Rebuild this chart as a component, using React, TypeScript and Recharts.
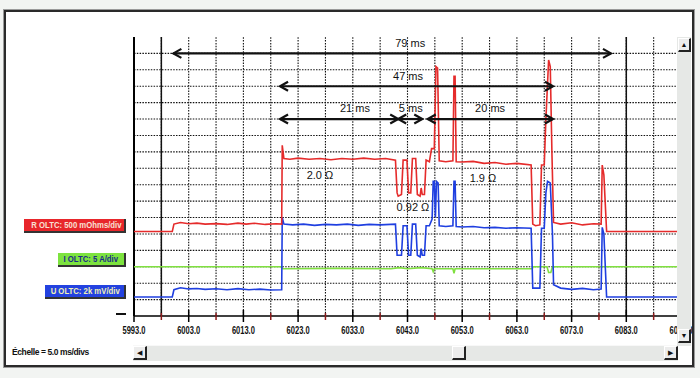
import {
  LineChart,
  Line,
  XAxis,
  YAxis,
  ReferenceLine,
  ReferenceDot,
} from "recharts";

// temps (ms) / niveau (divisions depuis l'axe)
const rTrace: [number, number][] = [
  [5993, 5.15], [6000.0, 5.15], [6000.3, 5.6], [6001.5, 5.7], [6003, 5.62], [6004.5, 5.66],
  [6006, 5.6], [6008, 5.63], [6010, 5.58], [6012, 5.66], [6013.5, 5.6], [6015, 5.65],
  [6017, 5.58], [6019, 5.62], [6020.0, 5.6], [6020.1, 10.4], [6020.4, 9.6], [6021.5, 9.55],
  [6023, 9.62], [6025, 9.55], [6027, 9.6], [6029, 9.52], [6031, 9.6], [6033, 9.55],
  [6035, 9.62], [6037, 9.55], [6039, 9.6], [6040.8, 9.5], [6041.1, 7.5], [6041.3, 7.3],
  [6041.9, 7.4], [6042.2, 9.5], [6042.9, 9.5], [6043.2, 7.5], [6043.6, 7.5], [6043.9, 9.6],
  [6044.5, 9.6], [6044.8, 7.4], [6045.3, 7.3], [6045.5, 7.8], [6045.7, 7.4], [6046.1, 7.4],
  [6046.4, 9.5], [6047.0, 9.4], [6047.4, 10.2], [6047.9, 10.2], [6048.2, 15.2], [6048.5, 15.1],
  [6048.8, 9.45], [6050, 9.4], [6051.3, 9.45], [6051.5, 14.6], [6051.7, 14.6], [6051.9, 9.4],
  [6053, 9.38], [6055, 9.42], [6057, 9.3], [6059, 9.35], [6061, 9.25], [6063, 9.3],
  [6065.6, 9.2], [6065.9, 5.6], [6066.4, 5.5], [6067.2, 5.55], [6067.5, 9.2], [6068.0, 9.2],
  [6068.3, 12], [6068.8, 15.6], [6069.1, 15.2], [6069.4, 10], [6069.7, 5.7], [6071, 5.6],
  [6073, 5.68], [6075, 5.55], [6077, 5.62], [6078.4, 5.6], [6078.6, 9.2], [6078.9, 8.6],
  [6079.4, 5.15], [6093, 5.15],
];

const iTrace: [number, number][] = [
  [5993, 3.0], [6020.0, 3.0], [6020.2, 2.88], [6030, 2.9], [6040, 2.88], [6041.5, 2.95],
  [6043, 2.88], [6045.5, 2.95], [6047.5, 2.88], [6047.7, 2.7], [6047.9, 2.88], [6051.3, 2.88],
  [6051.5, 2.6], [6051.7, 2.88], [6065.8, 2.88], [6066.0, 3.0], [6068.5, 3.0], [6068.8, 2.65],
  [6069.2, 2.65], [6069.5, 3.0], [6093, 3.0],
];

const uTrace: [number, number][] = [
  [5993, 1.16], [6000.0, 1.16], [6000.3, 1.6], [6001.5, 1.72], [6003, 1.65], [6004.5, 1.68],
  [6006, 1.62], [6008, 1.66], [6010, 1.6], [6012, 1.67], [6014, 1.6], [6016, 1.64],
  [6018, 1.58], [6020.0, 1.6], [6020.1, 6.0], [6020.4, 5.6], [6022, 5.55], [6024, 5.6],
  [6026, 5.52], [6028, 5.58], [6030, 5.55], [6032, 5.6], [6034, 5.52], [6036, 5.58],
  [6038, 5.55], [6040.8, 5.6], [6041.1, 3.7], [6041.9, 3.7], [6042.2, 5.5], [6042.9, 5.5],
  [6043.2, 3.7], [6043.6, 3.7], [6043.9, 5.6], [6044.5, 5.6], [6044.8, 3.7], [6045.3, 3.6],
  [6045.5, 4.1], [6045.7, 3.7], [6046.1, 3.7], [6046.4, 5.5], [6047.0, 5.5], [6047.5, 5.9],
  [6047.7, 8.2], [6047.9, 8.2], [6048.1, 6.0], [6048.3, 8.2], [6048.6, 8.1], [6048.8, 5.5],
  [6050, 5.45], [6051.3, 5.5], [6051.5, 8.2], [6051.7, 8.2], [6051.9, 5.45], [6053, 5.42],
  [6055, 5.45], [6057, 5.38], [6059, 5.4], [6061, 5.35], [6063, 5.38], [6065.6, 5.35],
  [6065.9, 1.7], [6067.2, 1.7], [6067.5, 5.35], [6068.0, 5.35], [6068.3, 7.5], [6068.6, 8.2],
  [6069.1, 8.1], [6069.5, 5.0], [6069.7, 1.9], [6071, 1.7], [6073, 1.62], [6075, 1.68],
  [6077, 1.6], [6078.4, 1.65], [6078.6, 5.4], [6078.9, 5.0], [6079.4, 1.16], [6093, 1.16],
];

// ticks toutes les 5 ms (majeurs toutes les 10 ms)
const timeTicks = [
  5993, 5998, 6003, 6008, 6013, 6018, 6023, 6028, 6033, 6038, 6043,
  6048, 6053, 6058, 6063, 6068, 6073, 6078, 6083, 6088, 6093,
];
const divTicks = [1, 2, 3, 4, 5, 6, 7, 8, 9, 10, 11, 12, 13, 14, 15, 16];
const cursors = [5998, 6083];

// mesures: début, fin, niveau
const arrows = [
  { from: 6000.2, to: 6080.2, at: 16 },
  { from: 6019.7, to: 6069.6, at: 14 },
  { from: 6019.7, to: 6041.3, at: 12 },
  { from: 6041.3, to: 6045.7, at: 12 },
  { from: 6046.7, to: 6069.6, at: 12 },
];

const notes = [
  { t: 6043.5, v: 16.65, text: "79 ms" },
  { t: 6043.1, v: 14.63, text: "47 ms" },
  { t: 6033.4, v: 12.68, text: "21 ms" },
  { t: 6043.6, v: 12.68, text: "5 ms" },
  { t: 6058.1, v: 12.68, text: "20 ms" },
  { t: 6027.0, v: 8.6, text: "2.0 Ω" },
  { t: 6056.8, v: 8.41, text: "1.9 Ω" },
  { t: 6044.0, v: 6.65, text: "0.92 Ω" },
];

const channels = [
  { text: "R OLTC: 500 mOhms/div", left: 24, top: 219, width: 102, bg: "#e8262b", color: "#f8e0d4" },
  { text: "I OLTC: 5 A/div", left: 58, top: 253, width: 68, bg: "#7de33f", color: "#1a2a8a" },
  { text: "U OLTC: 2k mV/div", left: 45, top: 285, width: 81, bg: "#2342e0", color: "#f2f2b4" },
];

const FONT = "'Liberation Sans', Arial, sans-serif";
const pts = (arr: [number, number][]) => arr.map(([t, v]) => ({ t, v }));

function TimeTick(props: any) {
  const { x, y, payload } = props;
  const val = payload.value as number;
  const major = (val - 5993) % 10 === 0;
  if (!major) {
    return <line x1={x} x2={x} y1={y - 3} y2={y + 4} stroke="#8b1a1a" strokeWidth={1.5} />;
  }
  return (
    <g>
      <line x1={x} x2={x} y1={y - 6} y2={y + 6} stroke="#000" strokeWidth={1.5} />
      <text
        x={x}
        y={y + 18}
        textAnchor="middle"
        fontSize={10}
        fontWeight="bold"
        fontFamily={FONT}
        fill="#111"
        textLength={23}
        lengthAdjust="spacingAndGlyphs"
      >
        {val.toFixed(1)}
      </text>
    </g>
  );
}

function ArrowShape(props: any) {
  const { x1, y1, x2, y2 } = props;
  const w = 8;
  const h = 4.5;
  return (
    <g stroke="#111" strokeWidth={2.2} fill="none">
      <line x1={x1} y1={y1} x2={x2} y2={y2} />
      <polyline points={`${x1 + w},${y1 - h} ${x1},${y1} ${x1 + w},${y1 + h}`} />
      <polyline points={`${x2 - w},${y2 - h} ${x2},${y2} ${x2 - w},${y2 + h}`} />
    </g>
  );
}

const btn: React.CSSProperties = {
  position: "absolute",
  background: "#ececec",
  borderTop: "1px solid #fff",
  borderLeft: "1px solid #fff",
  borderRight: "2px solid #222",
  borderBottom: "2px solid #222",
  boxSizing: "border-box",
  fontSize: 7,
  lineHeight: "11px",
  textAlign: "center",
  color: "#111",
  fontFamily: FONT,
};

const dotted = { stroke: "#111", strokeDasharray: "1.5 1.3", strokeWidth: 1.1 };

export default function App() {
  return (
    <div style={{ position: "fixed", left: 0, top: 0, width: 700, height: 378, background: "#f2f4f2", overflow: "hidden" }}>
      <div
        style={{
          position: "absolute",
          left: 4,
          top: 10,
          width: 690,
          height: 357,
          background: "#fff",
          border: "2px solid #2a2a2a",
          outline: "1px solid #9a9a9a",
          boxSizing: "border-box",
        }}
      />
      <div style={{ position: "absolute", left: 0, top: 0 }}>
        <LineChart width={700} height={378} margin={{ top: 37, right: 19, bottom: 32, left: 134 }}>
          <XAxis
            dataKey="t"
            type="number"
            domain={[5993, 6093]}
            ticks={timeTicks}
            allowDataOverflow
            height={30}
            tickSize={0}
            tickMargin={0}
            tickLine={false}
            tick={<TimeTick />}
            axisLine={{ stroke: "#000", strokeWidth: 1.5 }}
            interval={0}
          />
          <YAxis hide type="number" domain={[0, 17]} allowDataOverflow />
          {divTicks.map((d) => (
            <ReferenceLine key={"h" + d} y={d} {...dotted} />
          ))}
          {timeTicks.slice(1).map((t) => (
            <ReferenceLine key={"v" + t} x={t} {...dotted} />
          ))}
          <ReferenceLine x={5993} stroke="#000" strokeWidth={2} />
          {cursors.map((c) => (
            <ReferenceLine key={c} x={c} stroke="#111" strokeWidth={1.5} />
          ))}
          <Line data={pts(iTrace)} dataKey="v" type="linear" stroke="#80e040" strokeWidth={1.6} dot={false} isAnimationActive={false} />
          <Line data={pts(uTrace)} dataKey="v" type="linear" stroke="#1f3fe0" strokeWidth={1.6} dot={false} isAnimationActive={false} />
          <Line data={pts(rTrace)} dataKey="v" type="linear" stroke="#e52b2b" strokeWidth={1.6} dot={false} isAnimationActive={false} />
          {arrows.map((a, i) => (
            <ReferenceLine
              key={"a" + i}
              segment={[{ x: a.from, y: a.at }, { x: a.to, y: a.at }]}
              shape={ArrowShape}
            />
          ))}
          {notes.map((n) => (
            <ReferenceDot
              key={n.text}
              x={n.t}
              y={n.v}
              r={0}
              fill="none"
              stroke="none"
              label={{ value: n.text, position: "center", fill: "#111", fontSize: 11, fontFamily: FONT }}
            />
          ))}
        </LineChart>
      </div>

      {channels.map((c) => (
        <div
          key={c.text}
          style={{
            position: "absolute",
            left: c.left,
            top: c.top,
            width: c.width,
            height: 14,
            background: c.bg,
            color: c.color,
            borderRight: "2px solid #333",
            borderBottom: "2px solid #333",
            boxSizing: "border-box",
            fontFamily: FONT,
            fontWeight: "bold",
            fontSize: 9,
            lineHeight: "12px",
            textAlign: "center",
            whiteSpace: "nowrap",
            overflow: "hidden",
          }}
        >
          <span style={{ display: "inline-block", transform: "scaleX(0.86)", transformOrigin: "center" }}>{c.text}</span>
        </div>
      ))}
      <div style={{ position: "absolute", left: 116, top: 313, width: 10, height: 2, background: "#111" }} />

      <div style={{ position: "absolute", left: 12, top: 347, fontFamily: FONT, fontWeight: "bold", fontSize: 8.5, letterSpacing: -0.4, color: "#111", whiteSpace: "nowrap" }}>
        Échelle = 5.0 ms/divs
      </div>

      {/* barre de défilement horizontale */}
      <div style={{ position: "absolute", left: 133, top: 345, width: 545, height: 15, background: "#e6e8e6", borderTop: "1px solid #f8f8f8" }} />
      <div style={{ ...btn, left: 133, top: 346, width: 14, height: 14 }}>◀</div>
      <div style={{ ...btn, left: 452, top: 346, width: 14, height: 14 }} />
      <div style={{ ...btn, left: 664, top: 346, width: 14, height: 14 }}>▶</div>

      {/* barre de défilement verticale */}
      <div style={{ position: "absolute", left: 677, top: 37, width: 14, height: 309, background: "#e6e8e6" }} />
      <div style={{ ...btn, left: 678, top: 38, width: 13, height: 14 }}>▲</div>
      <div style={{ ...btn, left: 678, top: 329, width: 13, height: 14 }}>▼</div>
    </div>
  );
}
